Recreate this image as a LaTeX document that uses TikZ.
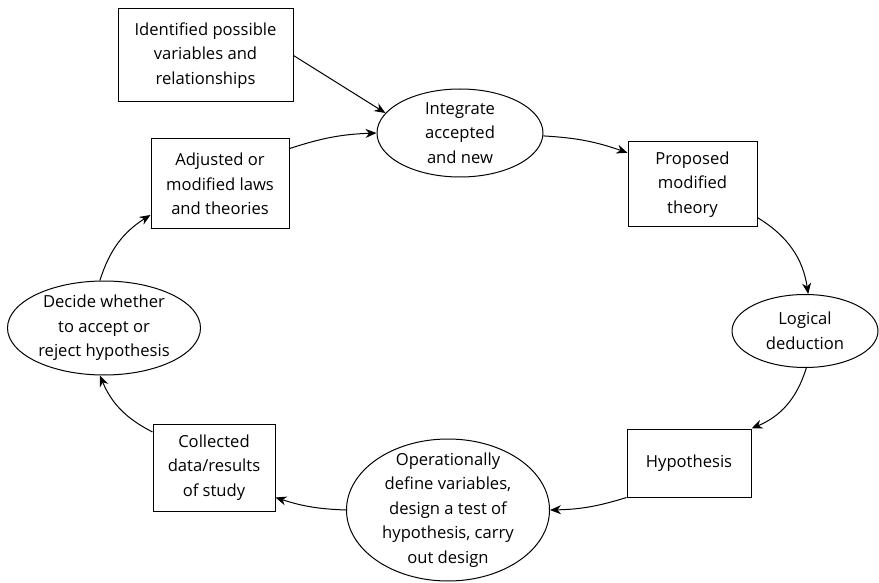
\documentclass[tikz,border=0pt]{standalone}
\usepackage{fontspec}
\setmainfont{Open Sans}
\usetikzlibrary{shapes.geometric,arrows.meta}
\begin{document}
\begin{tikzpicture}[x=1pt,y=-1pt,
  every node/.style={font=\fontsize{16.6}{24.5}\selectfont, align=center},
  boxnode/.style={draw, line width=1pt, rectangle, inner sep=0pt},
  ellnode/.style={draw, line width=1pt, ellipse, inner sep=0pt},
  arr/.style={line width=1pt, -{Stealth[length=11pt,width=9pt]}}]
\useasboundingbox (0,0) rectangle (879,583);
\node[boxnode, minimum width=175pt, minimum height=93pt] (ident) at (205.5,55.5) {Identified possible\\variables and\\relationships};
\node[boxnode, minimum width=138pt, minimum height=90pt] (adj) at (220,184) {Adjusted or\\modified laws\\and theories};
\node[ellnode, minimum width=166pt, minimum height=88pt, label={[align=center]center:Integrate\\accepted\\and new}] (integ) at (460,133) {};
\node[boxnode, minimum width=129pt, minimum height=85pt] (prop) at (692.5,184.5) {Proposed\\modified\\theory};
\node[ellnode, minimum width=146pt, minimum height=73pt, label={[align=center]center:Logical\\deduction}] (logic) at (805,331) {};
\node[boxnode, minimum width=124pt, minimum height=68pt] (hyp) at (689,463) {Hypothesis};
\node[ellnode, minimum width=203pt, minimum height=142pt, label={[align=center]center:Operationally\\define variables,\\design a test of\\hypothesis, carry\\out design}] (oper) at (448,510) {};
\node[boxnode, minimum width=122pt, minimum height=87pt] (coll) at (214,467.5) {Collected\\data/results\\of study};
\node[ellnode, minimum width=193pt, minimum height=94pt, label={[align=center]center:Decide whether\\to accept or\\reject hypothesis}] (decide) at (104,328) {};

\draw[arr] (ident.east) -- (integ.165);
\draw[arr] (adj.27) to[bend left=8] (integ.180);
\draw[arr] (integ.-2) to[bend left=8] (prop.154);
\draw[arr] (prop.-27.5) to[bend left=25] (logic.85);
\draw[arr] (logic.-88) to[bend left=25] (hyp.north east);
\draw[arr] (hyp.south west) to[bend left=8] (oper.0);
\draw[arr] (oper.180) to[bend left=8] (coll.-26);
\draw[arr] (coll.150) to[bend left=20] (decide.-95);
\draw[arr] (decide.95) to[bend left=20] (adj.204);
\end{tikzpicture}
\end{document}
